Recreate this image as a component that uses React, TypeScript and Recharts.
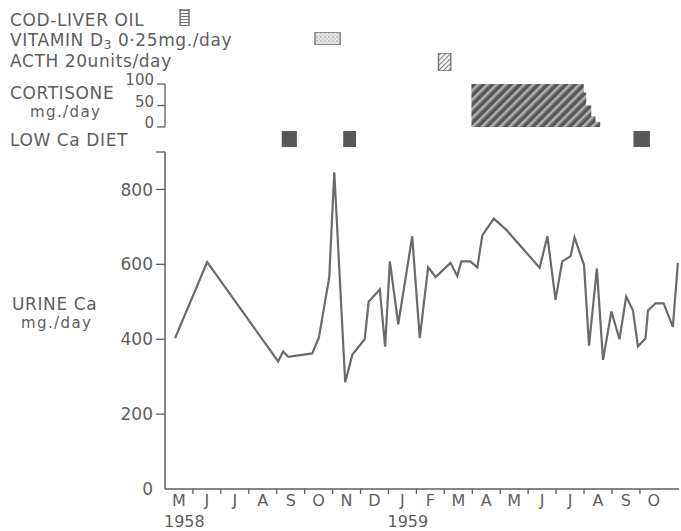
import React from "react";
import { Area, ComposedChart, Line, ReferenceArea, XAxis, YAxis } from "recharts";

const W = 681;
const H = 531;
const PLOT_LEFT = 165;
const PLOT_RIGHT = 2;
const X_MAX = 18.4; // months after 1 May 1958
const PX_PER_MONTH = (W - PLOT_LEFT - PLOT_RIGHT) / X_MAX;
const INK = "#5e5e5e";
const LINE = "#6a6a6a";
const FONT = "'DejaVu Sans', sans-serif";

// x axis
const monthLabels = ["M", "J", "J", "A", "S", "O", "N", "D", "J", "F", "M", "A", "M", "J", "J", "A", "S", "O"];
const monthTicks = monthLabels.map((_, i) => i);
const yearStarts = [0, 8];
const yearLabels = ["1958", "1959"];

// urine calcium, mg/day
const urineTicks = [0, 200, 400, 600, 800, 900];
const urineMonth = [
  0.36, 1.51, 4.05, 4.23, 4.41, 5.27, 5.51, 5.88, 6.06, 6.45, 6.71, 7.15, 7.29, 7.69, 7.88, 8.05, 8.35,
  8.85, 9.12, 9.42, 9.69, 10.22, 10.46, 10.61, 10.93, 11.18, 11.36, 11.77, 12.22, 13.41, 13.69, 13.98,
  14.22, 14.52, 14.66, 15.0, 15.18, 15.46, 15.68, 15.98, 16.27, 16.51, 16.75, 16.93, 17.2, 17.29, 17.56,
  17.85, 18.18, 18.36,
];
const urineCa = [
  403, 606, 341, 367, 353, 362, 405, 566, 846, 285, 359, 400, 500, 533, 380, 608, 440,
  675, 403, 592, 566, 604, 569, 608, 608, 592, 677, 722, 692, 591, 675, 505,
  608, 622, 672, 598, 383, 589, 345, 474, 400, 514, 477, 381, 402, 477, 496,
  496, 433, 604,
];

// cortisone, mg/day (step)
const cortisoneTicks = [0, 50, 100];
const cortisoneMonth = [10.97, 14.99, 15.08, 15.26, 15.41, 15.58];
const cortisoneDose = [100, 80, 50, 25, 12.5, 0];

// treatment periods [start, end] in months
const codLiverOil = [[0.54, 0.86]];
const vitaminD = [[5.37, 6.27]];
const acth = [[9.79, 10.23]];
const lowCaDiet = [
  [4.18, 4.72],
  [6.38, 6.84],
  [16.77, 17.36],
];

const urineData = urineMonth.map((m, i) => ({ month: m, ca: urineCa[i] }));
const cortisoneData = cortisoneMonth.map((m, i) => ({ month: m, dose: cortisoneDose[i] }));

function MonthTick(props: any) {
  const { x, y, payload } = props;
  const v = payload.value as number;
  const yi = yearStarts.indexOf(v);
  return (
    <g>
      {v > 0 && <line x1={x} x2={x} y1={y} y2={y + 5} stroke={INK} strokeWidth={1.3} />}
      <text x={x + PX_PER_MONTH / 2} y={y + 17} textAnchor="middle" fill={INK} fontSize={16} fontFamily={FONT}>
        {monthLabels[v]}
      </text>
      {yi >= 0 && (
        <text x={x - 1} y={y + 38} textAnchor="start" fill={INK} fontSize={16} fontFamily={FONT}>
          {yearLabels[yi]}
        </text>
      )}
    </g>
  );
}

function UrineTick(props: any) {
  const { x, y, payload } = props;
  const v = payload.value as number;
  return (
    <g>
      {v > 0 && <line x1={x - 9} x2={x} y1={y} y2={y} stroke={INK} strokeWidth={1.3} />}
      {v < 900 && (
        <text x={x - 12} y={y} dy="0.36em" textAnchor="end" fill={INK} fontSize={17} fontFamily={FONT}>
          {v}
        </text>
      )}
    </g>
  );
}

function CortisoneTick(props: any) {
  const { x, y, payload } = props;
  return (
    <g>
      <line x1={x - 8} x2={x} y1={y} y2={y} stroke={INK} strokeWidth={1.3} />
      <text x={x - 11} y={y - 4} dy="0.36em" textAnchor="end" fill={INK} fontSize={15} fontFamily={FONT}>
        {payload.value}
      </text>
    </g>
  );
}

function TreatmentRow({
  top,
  height,
  periods,
  fill,
  stroke,
}: {
  top: number;
  height: number;
  periods: number[][];
  fill: string;
  stroke?: string;
}) {
  const pts = periods.flatMap(([a, b]) => [
    { month: a, on: 1 },
    { month: b, on: 1 },
  ]);
  return (
    <div style={{ position: "absolute", left: 0, top }}>
      <ComposedChart
        width={W}
        height={height}
        data={pts}
        margin={{ top: 0, right: PLOT_RIGHT, bottom: 0, left: PLOT_LEFT }}
      >
        <XAxis type="number" dataKey="month" domain={[0, X_MAX]} hide allowDataOverflow />
        <YAxis type="number" domain={[0, 1]} hide allowDataOverflow />
        <Line dataKey="on" stroke="none" dot={false} activeDot={false} isAnimationActive={false} />
        {periods.map(([a, b], i) => (
          <ReferenceArea
            key={i}
            x1={a}
            x2={b}
            y1={0}
            y2={1}
            fill={fill}
            fillOpacity={1}
            stroke={stroke ?? "none"}
            strokeWidth={1.4}
            ifOverflow="visible"
          />
        ))}
      </ComposedChart>
    </div>
  );
}

const labelStyle = { fill: INK, fontSize: 17, fontFamily: FONT, letterSpacing: 0.6 } as const;
const unitStyle = { fill: INK, fontSize: 15, fontFamily: FONT, letterSpacing: 1.4 } as const;

export default function App() {
  return (
    <div style={{ position: "absolute", left: 0, top: 0, width: W, height: H, background: "#fff" }}>
      <svg width={0} height={0} style={{ position: "absolute" }}>
        <defs>
          <pattern id="codPat" patternUnits="userSpaceOnUse" width={4} height={3}>
            <rect width={4} height={3} fill="#fff" />
            <line x1={0} x2={4} y1={1.5} y2={1.5} stroke="#777" strokeWidth={1.1} />
          </pattern>
          <pattern id="vitPat" patternUnits="userSpaceOnUse" width={4} height={4}>
            <rect width={4} height={4} fill="#e6e6e6" />
            <circle cx={1} cy={1} r={0.8} fill="#999" />
            <circle cx={3} cy={3} r={0.6} fill="#aaa" />
          </pattern>
          <pattern id="acthPat" patternUnits="userSpaceOnUse" width={3.5} height={3.5} patternTransform="rotate(45)">
            <rect width={3.5} height={3.5} fill="#f2f2f2" />
            <line x1={0} x2={0} y1={0} y2={3.5} stroke="#888" strokeWidth={2} />
          </pattern>
          <pattern id="cortPat" patternUnits="userSpaceOnUse" width={6.5} height={6.5} patternTransform="rotate(45)">
            <rect width={6.5} height={6.5} fill="#575757" />
            <line x1={1} x2={1} y1={0} y2={6.5} stroke="#e8e8e8" strokeWidth={1.1} />
            <line x1={2.6} x2={2.6} y1={0} y2={6.5} stroke="#d0d0d0" strokeWidth={0.7} />
          </pattern>
        </defs>
      </svg>

      {/* urine calcium */}
      <div style={{ position: "absolute", left: 0, top: 0 }}>
        <ComposedChart
          width={W}
          height={H}
          data={urineData}
          margin={{ top: 152, right: PLOT_RIGHT, bottom: 0, left: PLOT_LEFT - 60 }}
        >
          <XAxis
            dataKey="month"
            type="number"
            domain={[0, X_MAX]}
            allowDataOverflow
            ticks={monthTicks}
            interval={0}
            height={42}
            tickLine={false}
            tickSize={0}
            tickMargin={0}
            tick={MonthTick}
            axisLine={{ stroke: INK, strokeWidth: 1.5 }}
          />
          <YAxis
            type="number"
            domain={[0, 900]}
            ticks={urineTicks}
            interval={0}
            width={60}
            tickLine={false}
            tickSize={0}
            tickMargin={0}
            tick={UrineTick}
            axisLine={{ stroke: INK, strokeWidth: 1.5 }}
          />
          <Line
            dataKey="ca"
            type="linear"
            stroke={LINE}
            strokeWidth={2.2}
            dot={false}
            isAnimationActive={false}
          />
        </ComposedChart>
      </div>

      {/* cortisone dose */}
      <div style={{ position: "absolute", left: 0, top: 0 }}>
        <ComposedChart
          width={W}
          height={140}
          data={cortisoneData}
          margin={{ top: 84, right: PLOT_RIGHT, bottom: 13, left: PLOT_LEFT - 40 }}
        >
          <XAxis dataKey="month" type="number" domain={[0, X_MAX]} hide allowDataOverflow />
          <YAxis
            type="number"
            domain={[0, 100]}
            ticks={cortisoneTicks}
            interval={0}
            width={40}
            tickLine={false}
            tickSize={0}
            tickMargin={0}
            tick={CortisoneTick}
            axisLine={{ stroke: INK, strokeWidth: 1.3 }}
          />
          <Area
            dataKey="dose"
            type="stepAfter"
            fill="url(#cortPat)"
            fillOpacity={1}
            stroke="none"
            isAnimationActive={false}
          />
        </ComposedChart>
      </div>

      <TreatmentRow top={9} height={17} periods={codLiverOil} fill="url(#codPat)" stroke="#6a6a6a" />
      <TreatmentRow top={32} height={13} periods={vitaminD} fill="url(#vitPat)" stroke="#777" />
      <TreatmentRow top={53} height={18} periods={acth} fill="url(#acthPat)" stroke="#777" />
      <TreatmentRow top={131} height={16} periods={lowCaDiet} fill="#585858" />

      <svg width={W} height={H} style={{ position: "absolute", left: 0, top: 0, pointerEvents: "none" }}>
        <text x={10} y={26} {...labelStyle}>COD-LIVER OIL</text>
        <text x={10} y={46} {...labelStyle}>
          VITAMIN D
          <tspan fontSize={12} dy={3}>3</tspan>
          <tspan dy={-3}> 0·25mg./day</tspan>
        </text>
        <text x={10} y={67} {...labelStyle}>ACTH 20units/day</text>
        <text x={10} y={99} {...labelStyle}>CORTISONE</text>
        <text x={30} y={117} {...unitStyle}>mg./day</text>
        <text x={10} y={146} {...labelStyle}>LOW Ca DIET</text>
        <text x={12} y={310} {...labelStyle}>URINE Ca</text>
        <text x={21} y={328} {...unitStyle}>mg./day</text>
      </svg>
    </div>
  );
}
